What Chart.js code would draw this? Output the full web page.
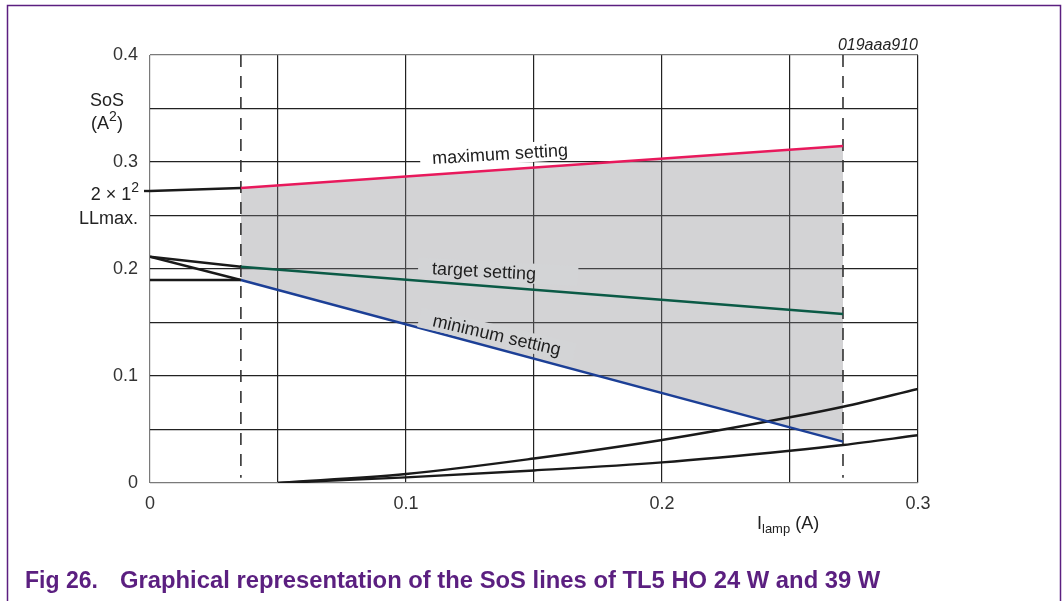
<!DOCTYPE html>
<html>
<head>
<meta charset="utf-8">
<script src="https://cdn.jsdelivr.net/npm/chart.js@4/dist/chart.umd.min.js"></script>
<style>
  html, body { margin: 0; padding: 0; background: #ffffff; }
  #wrap { position: relative; width: 1063px; height: 601px; }
  canvas { display: block; }
</style>
</head>
<body>
<div id="wrap"><canvas id="c" width="1063" height="601"></canvas></div>
<script>
// ---- data ----
const xTicks = [0, 0.1, 0.2, 0.3];
const yTicks = [0, 0.1, 0.2, 0.3, 0.4];
const xLimits = [0.0355, 0.2707];          // dashed limits
const maxLeadX = [0, 0.0355];
const maxLeadY = [0.2729, 0.2757];
const maxSettingY = [0.2757, 0.315];        // red
const targetSettingY = [0.2021, 0.158];     // green
const minSettingY = [0.1897, 0.0386];       // blue
const leadStartY = 0.2115;
const flatLeadY = [0.1897, 0.1897];
const curveX = [0.05, 0.1, 0.15, 0.2, 0.25, 0.2707, 0.3];
const curveUpperY = [0, 0.0084, 0.0229, 0.0402, 0.0614, 0.0713, 0.0879];
const curveLowerX = [0.05, 0.1, 0.15, 0.2, 0.25, 0.2707, 0.3];
const curveLowerY = [0, 0.0053, 0.0117, 0.0193, 0.0302, 0.0355, 0.0446];

const pts = (xs, ys) => xs.map((x, i) => ({ x: x, y: ys[i] }));

const FONT = '"Liberation Sans", Arial, sans-serif';
const BLACK = '#1a1a1a';
const FILLGREY = '#d3d4d6';

const datasets = [
  { label: 'maximum setting', data: pts(xLimits, maxSettingY), borderColor: '#e8195c', borderWidth: 2.6,
    fill: '+1', backgroundColor: 'rgba(129,130,134,0.35)' },
  { label: 'minimum setting', data: pts(xLimits, minSettingY), borderColor: '#1c3f96', borderWidth: 2.4 },
  { label: 'target setting', data: pts(xLimits, targetSettingY), borderColor: '#0b5a46', borderWidth: 2.6 },
  { label: 'max lead', data: pts(maxLeadX, maxLeadY), borderColor: BLACK, borderWidth: 2.4 },
  { label: 'target lead', data: pts(maxLeadX, [leadStartY, targetSettingY[0]]), borderColor: BLACK, borderWidth: 2.4 },
  { label: 'min lead', data: pts(maxLeadX, [leadStartY, minSettingY[0]]), borderColor: BLACK, borderWidth: 2.4 },
  { label: 'flat lead', data: pts(maxLeadX, flatLeadY), borderColor: BLACK, borderWidth: 2.4 },
  { label: 'curve upper', data: pts(curveX, curveUpperY), borderColor: BLACK, borderWidth: 2.4, cubicInterpolationMode: 'monotone' },
  { label: 'curve lower', data: pts(curveLowerX, curveLowerY), borderColor: BLACK, borderWidth: 2.4, cubicInterpolationMode: 'monotone' },
  { label: 'limit left', data: pts([xLimits[0], xLimits[0]], [0.4, 0.005]), borderColor: '#333', borderWidth: 1.6, borderDash: [12, 9] },
  { label: 'limit right', data: pts([xLimits[1], xLimits[1]], [0.4, 0.005]), borderColor: '#333', borderWidth: 1.6, borderDash: [12, 9] }
];
datasets.forEach(d => { d.pointRadius = 0; d.fill = d.fill || false; d.borderCapStyle = 'butt'; });

function rotLabel(ctx, text, cx, cy, angDeg, bg, padL, padR) {
  ctx.save();
  ctx.translate(cx, cy);
  ctx.rotate(angDeg * Math.PI / 180);
  ctx.font = '18px ' + FONT;
  const w = ctx.measureText(text).width;
  ctx.fillStyle = bg;
  ctx.fillRect(-w / 2 - padL, -10, w + padL + padR, 20);
  ctx.fillStyle = '#1e1e1e';
  ctx.textAlign = 'center';
  ctx.textBaseline = 'middle';
  ctx.fillText(text, 0, 1);
  ctx.restore();
}

const deco = {
  id: 'deco',
  beforeDraw(chart) {
    const ctx = chart.ctx;
    ctx.save();
    ctx.fillStyle = '#fff';
    ctx.fillRect(0, 0, chart.width, chart.height);
    ctx.strokeStyle = '#5b1f80';
    ctx.lineWidth = 1.5;
    ctx.strokeRect(7.5, 5.5, 1053, 620);
    ctx.restore();
  },
  afterDatasetsDraw(chart) {
    const ctx = chart.ctx;
    const xs = chart.scales.x, ys = chart.scales.y;
    const X = v => xs.getPixelForValue(v), Y = v => ys.getPixelForValue(v);
    // small tick for 2 x 1^2 LLmax
    ctx.save();
    ctx.strokeStyle = BLACK; ctx.lineWidth = 2.4;
    ctx.beginPath(); ctx.moveTo(X(0) - 6, Y(maxLeadY[0])); ctx.lineTo(X(0), Y(maxLeadY[0])); ctx.stroke();

    // line labels
    rotLabel(ctx, 'maximum setting', X(0.1367), Y(0.3075), -3.5, '#ffffff', 12, 14);
    rotLabel(ctx, 'target setting', X(0.1305), Y(0.1981), 3, FILLGREY, 14, 42);
    rotLabel(ctx, 'minimum setting', X(0.1355), Y(0.1383), 13, FILLGREY, 14, 14);

    ctx.fillStyle = '#222';
    ctx.textBaseline = 'alphabetic';
    // y axis title
    ctx.font = '18px ' + FONT;
    ctx.textAlign = 'center';
    ctx.fillText('SoS', 107, 106);
    ctx.textAlign = 'left';
    const a1 = '(A', a3 = ')';
    ctx.font = '18px ' + FONT;
    const w1 = ctx.measureText(a1).width;
    ctx.font = '14px ' + FONT;
    const w2 = ctx.measureText('2').width;
    ctx.font = '18px ' + FONT;
    const w3 = ctx.measureText(a3).width;
    let sx = 107 - (w1 + w2 + w3) / 2;
    ctx.fillText(a1, sx, 129);
    ctx.font = '14px ' + FONT; ctx.fillText('2', sx + w1, 121);
    ctx.font = '18px ' + FONT; ctx.fillText(a3, sx + w1 + w2, 129);

    // 2 x 1^2 LLmax.
    const t1 = '2 \u00d7 1';
    ctx.font = '14px ' + FONT;
    const sw = ctx.measureText('2').width;
    ctx.font = '18px ' + FONT;
    const tw = ctx.measureText(t1).width;
    const right = 139;
    ctx.fillText(t1, right - sw - tw, 200);
    ctx.font = '14px ' + FONT; ctx.fillText('2', right - sw, 192);
    ctx.font = '18px ' + FONT;
    ctx.textAlign = 'right';
    ctx.fillText('LLmax.', 138, 224);

    // x axis title I_lamp (A)
    ctx.textAlign = 'left';
    ctx.font = '18px ' + FONT;
    let px = 757;
    ctx.fillText('I', px, 529); px += ctx.measureText('I').width;
    ctx.font = '13px ' + FONT;
    ctx.fillText('lamp', px, 533); px += ctx.measureText('lamp').width;
    ctx.font = '18px ' + FONT;
    ctx.fillText(' (A)', px, 529);

    // figure code
    ctx.font = 'italic 16px ' + FONT;
    ctx.textAlign = 'right';
    ctx.fillText('019aaa910', X(0.3), 50);

    // caption
    ctx.fillStyle = '#5b1f80';
    ctx.textAlign = 'left';
    ctx.font = 'bold 23px ' + FONT;
    ctx.fillText('Fig 26.', 25, 588);
    ctx.font = 'bold 23.8px ' + FONT;
    ctx.fillText('Graphical representation of the SoS lines of TL5 HO 24 W and 39 W', 120, 588);
    ctx.restore();
  }
};

const gridColor = (ctx, edges) => {
  const v = ctx.tick ? ctx.tick.value : null;
  if (v !== null && edges.some(e => Math.abs(v - e) < 1e-9)) return '#7a7a7a';
  return '#222';
};
const fmt = v => {
  const r = Math.round(v * 10);
  if (Math.abs(v * 10 - r) > 1e-6) return '';
  return r === 0 ? '0' : (r / 10).toFixed(1);
};

new Chart(document.getElementById('c'), {
  type: 'line',
  data: { datasets: datasets },
  options: {
    responsive: false,
    animation: false,
    devicePixelRatio: 1,
    layout: { padding: { top: 55, right: 145, left: 0, bottom: 0 } },
    plugins: { legend: { display: false }, tooltip: { enabled: false }, filler: { drawTime: 'beforeDatasetsDraw' } },
    scales: {
      x: {
        type: 'linear', min: xTicks[0], max: xTicks[xTicks.length - 1],
        afterFit: s => { s.height = 118; },
        border: { display: false },
        grid: { color: c => gridColor(c, [0]), lineWidth: 1.2, drawTicks: false },
        ticks: { stepSize: 0.05, autoSkip: false, maxRotation: 0, padding: 10, color: '#333',
                 font: { size: 18, family: FONT }, callback: v => fmt(v) }
      },
      y: {
        type: 'linear', min: yTicks[0], max: yTicks[yTicks.length - 1],
        afterFit: s => { s.width = 150; },
        border: { display: false },
        grid: { color: c => gridColor(c, [0, 0.4]), lineWidth: 1.2, drawTicks: false },
        ticks: { stepSize: 0.05, autoSkip: false, padding: 12, color: '#333',
                 font: { size: 18, family: FONT }, callback: v => fmt(v) }
      }
    }
  },
  plugins: [deco]
});
</script>
</body>
</html>
